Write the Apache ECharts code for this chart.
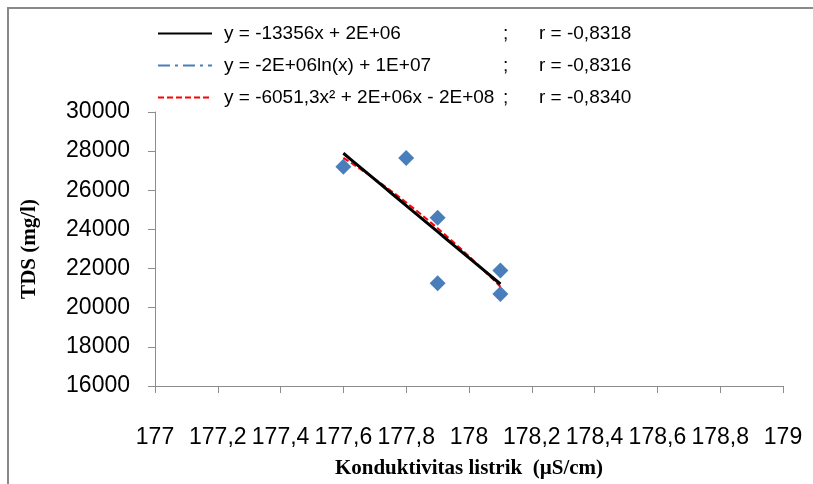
<!DOCTYPE html>
<html>
<head>
<meta charset="utf-8">
<script src="https://cdn.jsdelivr.net/npm/echarts@6/dist/echarts.min.js"></script>
<style>
  html, body { margin: 0; padding: 0; background: #fff; }
  #chart { width: 813px; height: 484px; }
</style>
</head>
<body>
<div id="chart"></div>
<script>
// data
var conductivity = [177.6, 177.8, 177.9, 177.9, 178.1, 178.1];
var tds = [27200, 27650, 24600, 21250, 21900, 20700];

var xTicks = { min: 177, max: 179, step: 0.2 };
var yTicks = { min: 16000, max: 30000, step: 2000 };

var trendNames = [
    'y = -13356x + 2E+06',
    'y = -2E+06ln(x) + 1E+07',
    'y = -6051,3x\u00b2 + 2E+06x - 2E+08'
];
var trendR = ['-0,8318', '-0,8316', '-0,8340'];

// least squares fits of the scatter points (like excel trendlines)
function fitLinear(xs, ys) {
    var n = xs.length, mx = 0, my = 0, sxx = 0, sxy = 0;
    for (var i = 0; i < n; i++) { mx += xs[i]; my += ys[i]; }
    mx /= n; my /= n;
    for (var i = 0; i < n; i++) {
        sxx += (xs[i] - mx) * (xs[i] - mx);
        sxy += (xs[i] - mx) * (ys[i] - my);
    }
    var b = sxy / sxx;
    return function (x) { return my + b * (x - mx); };
}
function fitLog(xs, ys) {
    var lx = xs.map(function (v) { return Math.log(v); });
    var f = fitLinear(lx, ys);
    return function (x) { return f(Math.log(x)); };
}
function fitQuad(xs, ys) {
    var n = xs.length, c = 0;
    for (var i = 0; i < n; i++) c += xs[i];
    c /= n;
    var s = [0, 0, 0, 0, 0], t = [0, 0, 0];
    for (var i = 0; i < n; i++) {
        var u = xs[i] - c;
        for (var k = 0; k < 5; k++) s[k] += Math.pow(u, k);
        for (var k = 0; k < 3; k++) t[k] += ys[i] * Math.pow(u, k);
    }
    // solve 3x3 normal equations (gauss)
    var m = [[s[0], s[1], s[2], t[0]], [s[1], s[2], s[3], t[1]], [s[2], s[3], s[4], t[2]]];
    for (var p = 0; p < 3; p++) {
        for (var r = p + 1; r < 3; r++) {
            var f = m[r][p] / m[p][p];
            for (var k = p; k < 4; k++) m[r][k] -= f * m[p][k];
        }
    }
    var a = [0, 0, 0];
    for (var p = 2; p >= 0; p--) {
        var v = m[p][3];
        for (var k = p + 1; k < 3; k++) v -= m[p][k] * a[k];
        a[p] = v / m[p][p];
    }
    return function (x) { var u = x - c; return a[0] + a[1] * u + a[2] * u * u; };
}
function curve(fn) {
    var lo = Math.min.apply(null, conductivity), hi = Math.max.apply(null, conductivity);
    var pts = [];
    for (var i = 0; i <= 20; i++) {
        var x = lo + (hi - lo) * i / 20;
        pts.push([x, fn(x)]);
    }
    return pts;
}

var linFit = fitLinear(conductivity, tds);
var logFit = fitLog(conductivity, tds);
var quadFit = fitQuad(conductivity, tds);

var rMap = {};
trendNames.forEach(function (n, i) { rMap[n] = trendR[i]; });

var chart = echarts.init(document.getElementById('chart'));
var option = {
    animation: false,
    backgroundColor: '#fff',
    grid: { left: 155, right: 30, top: 112, bottom: 90 },
    legend: {
        data: trendNames,
        orient: 'vertical',
        left: 152,
        top: 18,
        itemWidth: 54,
        itemHeight: 14,
        itemGap: 11,
        itemStyle: { opacity: 0 },
        formatter: function (name) {
            return '{eq|' + name + '}{sc|;}{r|r = ' + rMap[name] + '}';
        },
        textStyle: {
            fontFamily: 'Liberation Sans',
            fontSize: 19,
            color: '#000',
            lineHeight: 21,
            rich: {
                eq: { width: 279, padding: [0, 0, 0, 7], fontSize: 19, fontFamily: 'Liberation Sans' },
                sc: { width: 36, fontSize: 19, fontFamily: 'Liberation Sans' },
                r: { fontSize: 19, fontFamily: 'Liberation Sans' }
            }
        }
    },
    xAxis: {
        type: 'value',
        min: xTicks.min,
        max: xTicks.max,
        interval: xTicks.step,
        name: 'Konduktivitas listrik  (\u00b5S/cm)',
        nameLocation: 'middle',
        nameGap: 72,
        nameTextStyle: { fontFamily: 'Liberation Serif', fontWeight: 'bold', fontSize: 21, color: '#000' },
        axisLine: { show: true, onZero: false, lineStyle: { color: '#8c8c8c', width: 1 } },
        axisTick: { show: true, length: 7, lineStyle: { color: '#8c8c8c' } },
        splitLine: { show: false },
        axisLabel: {
            margin: 40,
            fontFamily: 'Liberation Sans',
            fontSize: 23,
            color: '#000',
            formatter: function (v) {
                return String(parseFloat(v.toFixed(1))).replace('.', ',');
            }
        }
    },
    yAxis: {
        type: 'value',
        min: yTicks.min,
        max: yTicks.max,
        interval: yTicks.step,
        name: 'TDS (mg/l)',
        nameLocation: 'middle',
        nameGap: 115,
        nameTextStyle: { fontFamily: 'Liberation Serif', fontWeight: 'bold', fontSize: 21, color: '#000' },
        axisLine: { show: true, lineStyle: { color: '#8c8c8c', width: 1 } },
        axisTick: { show: true, length: 7, lineStyle: { color: '#8c8c8c' } },
        splitLine: { show: false },
        axisLabel: {
            margin: 25,
            fontFamily: 'Liberation Sans',
            fontSize: 23,
            color: '#000',
            formatter: function (v) { return String(v); }
        }
    },
    graphic: [
        { type: 'line', shape: { x1: 7, y1: 8, x2: 813, y2: 8 }, style: { stroke: '#888', lineWidth: 2 } },
        { type: 'line', shape: { x1: 8, y1: 7, x2: 8, y2: 484 }, style: { stroke: '#888', lineWidth: 2 } }
    ],
    series: [
        {
            name: 'data',
            type: 'scatter',
            symbol: 'diamond',
            symbolSize: 16,
            itemStyle: { color: '#4a7ebb', opacity: 1 },
            data: conductivity.map(function (x, i) { return [x, tds[i]]; }),
            z: 2
        },
        {
            name: trendNames[2],
            type: 'line',
            symbol: 'none',
            itemStyle: { color: '#ff0000' },
            lineStyle: { color: '#ff0000', width: 2, type: [6, 3] },
            data: curve(quadFit),
            z: 3
        },
        {
            name: trendNames[1],
            type: 'line',
            symbol: 'none',
            itemStyle: { color: '#4a7ebb' },
            lineStyle: { color: '#4a7ebb', width: 2, type: [12, 5, 3, 5] },
            data: curve(logFit),
            z: 4
        },
        {
            name: trendNames[0],
            type: 'line',
            symbol: 'none',
            itemStyle: { color: '#000' },
            lineStyle: { color: '#000', width: 3 },
            data: curve(linFit),
            z: 5
        }
    ]
};
chart.setOption(option);
</script>
</body>
</html>
